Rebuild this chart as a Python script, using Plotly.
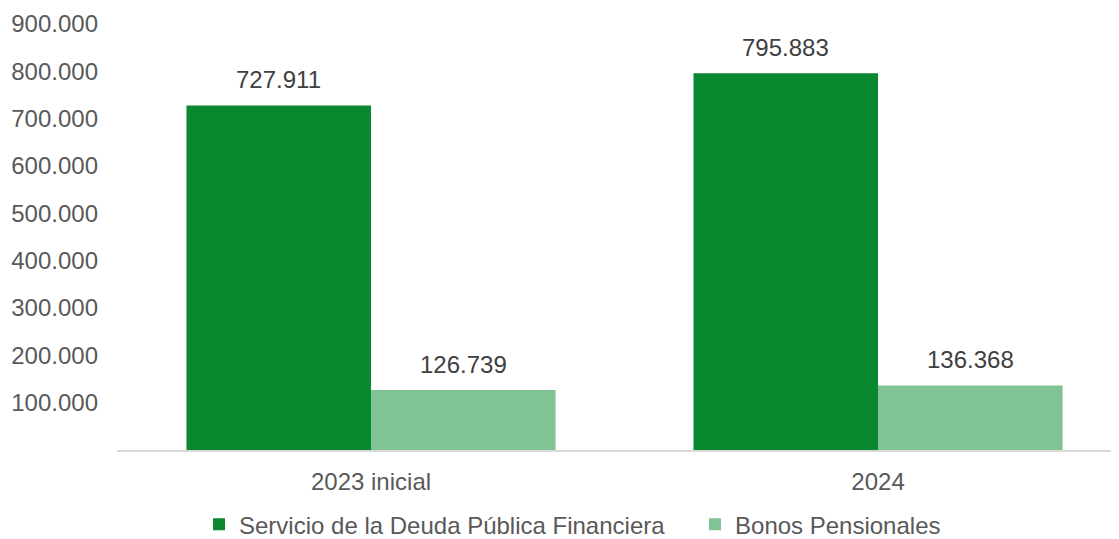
import plotly.graph_objects as go

categories = ["2023 inicial", "2024"]
servicio = [727911, 795883]
bonos = [126739, 136368]
series_names = ["Servicio de la Deuda Pública Financiera", "Bonos Pensionales"]
tick_vals = [100000, 200000, 300000, 400000, 500000, 600000, 700000, 800000, 900000]

colors = ["#0A882F", "#80C394"]
FONT = "Liberation Sans, Arial, sans-serif"

fig = go.Figure()
for name, vals, col, lg in zip(series_names, [servicio, bonos], colors, ["legend", "legend2"]):
    fig.add_trace(go.Bar(
        x=categories, y=vals, name=name,
        marker=dict(color=col, line=dict(width=0)),
        textposition="none",
        hoverinfo="skip",
        legend=lg,
    ))

# data labels as annotations positioned from the data
offsets = [-0.182, 0.182]
for vals, off in zip([servicio, bonos], offsets):
    for i, v in enumerate(vals):
        fig.add_annotation(
            x=i + off, y=v, xref="x", yref="y",
            text=f"{v:,}".replace(",", "."),
            showarrow=False, yanchor="bottom", yshift=10,
            font=dict(family=FONT, size=24, color="#404040"),
        )

legend_common = dict(
    orientation="h", xanchor="left", y=-0.1755, yanchor="middle",
    font=dict(family=FONT, size=24, color="#595959"),
    itemwidth=30, bgcolor="rgba(0,0,0,0)",
)

fig.update_layout(
    width=1119, height=539,
    margin=dict(l=109, r=0, t=16, b=97, autoexpand=False),
    paper_bgcolor="white", plot_bgcolor="white",
    barmode="group", bargap=0.272, bargroupgap=0,
    separators=",.",
    font=dict(family=FONT, size=24, color="#595959"),
    showlegend=True,
    legend=dict(x=0.0812, **legend_common),
    legend2=dict(x=0.5723, **legend_common),
    xaxis=dict(
        type="category", range=[-0.501, 1.491], automargin=False,
        showgrid=False, showline=True, linecolor="#D9D9D9", linewidth=2,
        ticks="", tickfont=dict(family=FONT, size=24, color="#595959"),
        ticklabelstandoff=9, fixedrange=True,
    ),
    yaxis=dict(
        range=[0, 900000], tickvals=tick_vals, tickformat=",.0f", automargin=False,
        showgrid=False, zeroline=False, showline=False, ticks="",
        tickfont=dict(family=FONT, size=24, color="#595959"),
        ticklabelstandoff=18, fixedrange=True,
    ),
)

fig.write_html("out.html")
